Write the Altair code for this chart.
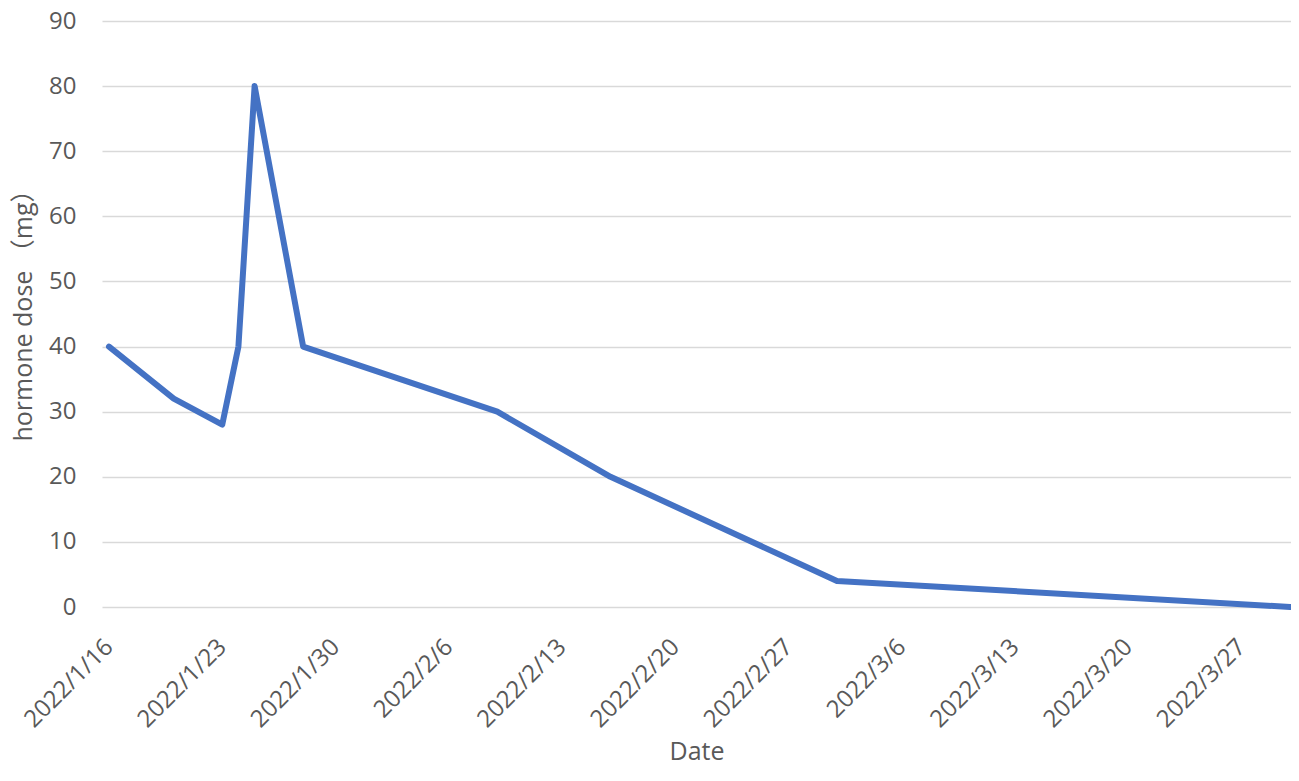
import altair as alt
import pandas as pd

dates = ["2022/01/16", "2022/01/20", "2022/01/23", "2022/01/24", "2022/01/25",
         "2022/01/28", "2022/02/09", "2022/02/16", "2022/03/02", "2022/03/30"]
doses = [40, 32, 28, 40, 80, 40, 30, 20, 4, 0]

tick_days = [(1, 16), (1, 23), (1, 30), (2, 6), (2, 13), (2, 20), (2, 27),
             (3, 6), (3, 13), (3, 20), (3, 27)]

df = pd.DataFrame({"date": [d + " 00:00" for d in dates], "dose": doses})

FONT = "Open Sans"
TFONT = "Open Sans, Noto Sans CJK SC"
GRAY = "#595959"

tick_values = [alt.DateTime(year=2022, month=m, date=d) for m, d in tick_days]

chart = alt.Chart(df).mark_line(color="#4472C4", strokeWidth=6, strokeJoin="round", strokeCap="round").encode(
    x=alt.X("date:T",
            title="Date",
            scale=alt.Scale(domain=[alt.DateTime(year=2022, month=1, date=15, hours=13, minutes=37),
                                    alt.DateTime(year=2022, month=3, date=30, hours=1, minutes=30)]),
            axis=alt.Axis(values=tick_values, format="%Y/%-m/%-d", labelAngle=-45,
                          labelAlign="right", labelBaseline="middle", labelPadding=36,
                          labelFontSize=24, labelColor=GRAY, labelFont=FONT,
                          ticks=False, domain=False, grid=False,
                          titleFontSize=25, titleFont=FONT, titleColor=GRAY,
                          titleFontWeight="normal", titlePadding=8, labelOverlap=False)),
    y=alt.Y("dose:Q",
            title="hormone dose （mg）",
            scale=alt.Scale(domain=[0, 90]),
            axis=alt.Axis(values=list(range(0, 91, 10)), labelFontSize=24, labelColor=GRAY,
                          labelFont=FONT, labelPadding=26, ticks=False, domain=False,
                          gridColor="#D9D9D9", gridWidth=1.5,
                          titleFontSize=25, titleFont=TFONT, titleColor=GRAY,
                          titleFontWeight="normal", titleX=-66, titleY=288)),
).properties(
    width=1189, height=586,
    padding={"left": 94, "top": 13, "right": 0, "bottom": 166},
    autosize="none",
).configure_view(stroke=None)

chart.save("out.html", embed_options={"renderer": "svg", "actions": False})
